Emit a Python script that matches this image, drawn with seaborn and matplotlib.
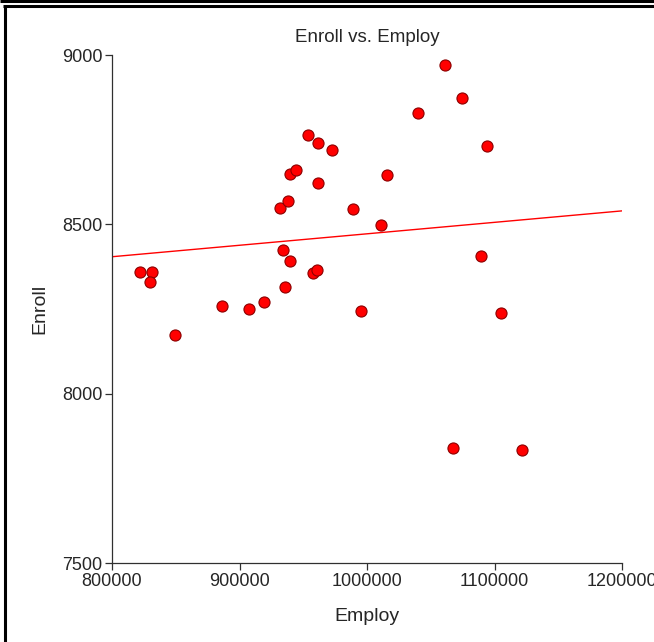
import numpy as np
import pandas as pd
import seaborn as sns
import matplotlib.pyplot as plt
from matplotlib.lines import Line2D

# values
employ = [821961, 831373, 829804, 849412, 886275, 907451, 919216, 931765,
          934118, 938039, 939608, 944314, 935686, 939608, 953725, 961569,
          972549, 961569, 957647, 960784, 989020, 995294, 1010980, 1015686,
          1040000, 1061176, 1074510, 1094118, 1089412, 1105098, 1067451, 1121569]
enroll = [8359, 8359, 8330, 8173, 8259, 8250, 8271, 8548,
          8424, 8569, 8649, 8660, 8315, 8392, 8764, 8740,
          8720, 8622, 8356, 8365, 8545, 8244, 8498, 8646,
          8829, 8970, 8873, 8731, 8407, 8238, 7840, 7834]
x_ticks = [800000, 900000, 1000000, 1100000, 1200000]
y_ticks = [7500, 8000, 8500, 9000]

df = pd.DataFrame({'Employ': employ, 'Enroll': enroll})

sns.set_style('white')
plt.rcParams['font.family'] = ['Liberation Sans', 'DejaVu Sans']

fig = plt.figure(figsize=(6.54, 6.42), dpi=100)
ax = fig.add_axes([112/654, 79/642, 510/654, 508/642])
# set limits first so the fitted line spans the full x range
ax.set_xlim(800000, 1200000)
ax.set_ylim(7500, 9000)

sns.regplot(data=df, x='Employ', y='Enroll', ax=ax, ci=None, truncate=False,
            scatter_kws=dict(s=64, color='#ff0000', edgecolor='#8b0000',
                             linewidths=0.8, alpha=1, zorder=3),
            line_kws=dict(color='#ff0000', lw=1))

ax.set_xlim(800000, 1200000)
ax.set_ylim(7500, 9000)
ax.set_xticks(x_ticks)
ax.set_yticks(y_ticks)
ax.set_xticklabels([str(v) for v in x_ticks])
ax.set_yticklabels([str(v) for v in y_ticks])

for side in ['top', 'right']:
    ax.spines[side].set_visible(False)
for side in ['left', 'bottom']:
    ax.spines[side].set_color('#303030')
    ax.spines[side].set_linewidth(0.9)
ax.tick_params(axis='both', direction='out', length=5, width=0.9,
               color='#303030', labelsize=13, pad=2,
               left=True, bottom=True)
ax.set_title('Enroll vs. Employ', fontsize=13.5, pad=9)
ax.set_xlabel('Employ', fontsize=14, labelpad=13)
ax.set_ylabel('Enroll', fontsize=14, labelpad=10)

# frame around the picture (top band and inner line)
W, H = 654, 642
def fline(xs, ys, lw):
    fig.add_artist(Line2D([x / W for x in xs], [1 - y / H for y in ys],
                          transform=fig.transFigure, color='black', lw=lw,
                          solid_capstyle='butt'))
fline([0, W], [1.2, 1.2], 2.2)
fline([3, W], [5.8, 5.8], 2.2)
fline([5.5, 5.5], [4.5, H], 2.2)

fig.savefig('out.png', dpi=100)
